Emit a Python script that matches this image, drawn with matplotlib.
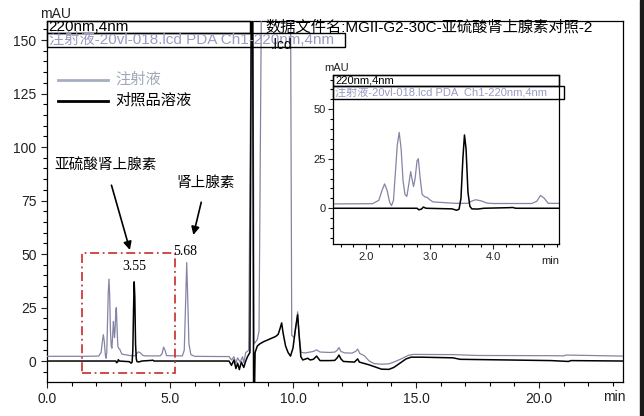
import matplotlib
matplotlib.use("Agg")
import matplotlib.pyplot as plt
from matplotlib.patches import Rectangle
from matplotlib.transforms import Bbox

plt.rcParams['font.family'] = ['Liberation Sans', 'Noto Sans CJK SC', 'DejaVu Sans']

# ---------------- data ----------------
gray_t = [0.0, 1.5, 2.1, 2.2, 2.25, 2.29, 2.33, 2.37, 2.40, 2.43, 2.46, 2.49, 2.52, 2.55, 2.58,
          2.61, 2.64, 2.67, 2.70, 2.72, 2.745, 2.77, 2.80, 2.82, 2.85, 2.88, 2.92, 2.96, 3.0,
          3.05, 3.15, 3.25, 3.4, 3.6, 3.65, 3.72, 3.8, 3.9, 4.0, 4.6, 4.68, 4.74, 4.8, 4.86,
          5.5, 5.58, 5.63, 5.68, 5.72, 5.77, 5.85, 6.0, 7.0, 7.4, 7.5, 7.6, 7.68, 7.75, 7.85,
          7.95, 8.0, 8.08, 8.2, 8.31, 8.37, 8.42, 8.55, 8.62, 8.72, 9.9, 9.95, 10.05, 10.12,
          10.19, 10.25, 10.33, 10.5, 10.7, 10.83, 10.96, 11.1, 11.5, 11.7, 11.8, 11.87, 11.95,
          12.1, 12.4, 12.55, 12.63, 12.72, 12.9, 13.1, 13.3, 13.6, 13.9, 14.1, 14.4, 14.7,
          14.9, 16.5, 17.5, 20.5, 21.0, 21.1, 23.43]
gray_v = [2.2, 2.2, 2.3, 4.0, 9.0, 12.3, 9.0, 3.0, 1.3, 4.0, 18.0, 32.0, 38.3, 30.0, 14.0,
          7.0, 6.0, 12.0, 18.5, 15.0, 11.0, 15.0, 24.0, 25.0, 15.0, 7.0, 5.8, 5.5, 4.3,
          3.2, 3.0, 2.8, 2.5, 2.5, 3.5, 4.3, 3.8, 2.6, 2.4, 2.4, 3.5, 6.5, 5.0, 2.5,
          2.4, 5.0, 25.0, 46.0, 30.0, 8.0, 3.0, 2.2, 2.1, 2.1, 0.5, 2.0, -1.0, 1.5, -0.5,
          2.0, -0.8, 4.0, 5.0, 175.0, 175.0, 8.0, 10.0, 14.0, 175.0, 175.0, 12.0, 11.0, 16.0,
          23.0, 12.0, 4.0, 3.8, 4.2, 4.5, 5.2, 4.2, 4.0, 4.2, 5.0, 6.3, 4.5,
          3.8, 3.7, 4.5, 5.6, 3.5, 2.5, 0.0, -1.2, -1.5, -1.3, -0.5, 1.0, 2.7,
          3.1, 3.0, 2.6, 2.5, 2.4, 2.8, 2.3]

black_t = [0.0, 2.2, 2.8, 2.83, 2.87, 2.9, 2.94, 3.35, 3.42, 3.46, 3.49, 3.52, 3.545, 3.57,
           3.60, 3.63, 3.66, 3.75, 3.85, 4.25, 4.3, 4.35, 7.4, 7.5, 7.6, 7.68, 7.75, 7.82,
           7.9, 8.0, 8.08, 8.15, 8.25, 8.31, 8.36, 8.40, 8.43, 8.46, 8.55, 8.65, 8.8, 9.0,
           9.2, 9.3, 9.4, 9.47, 9.54, 9.6, 9.7, 9.8, 9.9, 10.0, 10.1, 10.19, 10.25, 10.32,
           10.4, 10.6, 10.7, 10.83, 10.96, 11.1, 11.5, 11.7, 11.8, 11.87, 11.95, 12.05,
           12.5, 12.63, 12.7, 13.1, 13.4, 13.6, 13.9, 14.1, 14.35, 14.6, 14.8, 15.2, 16.5,
           16.8, 18.7, 20.5, 21.2, 21.3, 23.43]
black_v = [0.0, 0.0, 0.0, -0.8, -0.4, 0.6, 0.0, -0.3, -1.0, -0.5, 5.0, 25.0, 37.0, 30.0,
           8.0, 1.0, -0.3, -0.4, 0.0, 0.3, 0.4, 0.0, 0.0, -2.0, 0.5, -3.5, -1.0, -4.0,
           -0.5, -3.0, 0.0, 2.0, 4.0, 175.0, 175.0, -20.0, -20.0, 4.0, 7.0, 8.0, 9.0, 10.0,
           11.0, 11.5, 12.5, 15.0, 17.8, 13.0, 7.0, 4.0, 2.3, 6.0, 15.0, 21.6, 12.0, 2.0,
           0.5, 1.3, 0.5, 0.8, 2.3, 0.2, 0.2, 0.3, 1.5, 2.8, 1.0, -0.2,
           -0.5, 1.0, -0.5, -1.8, -3.0, -3.8, -3.9, -3.0, -1.0, 1.0, 1.8, 1.8, 1.5,
           0.8, 0.5, 0.2, -0.2, 0.2, 0.0]

main_yticks = [0, 25, 50, 75, 100, 125, 150]
main_xticks = [0, 5, 10, 15, 20]
main_xlabels = ["0.0", "5.0", "10.0", "15.0", "20.0"]
inset_xticks = [2, 3, 4]
inset_xlabels = ["2.0", "3.0", "4.0"]
inset_yticks = [0, 25, 50]

legend_labels = ["注射液", "对照品溶液"]
peak_labels = ["3.55", "5.68"]
peak_pos = [(3.56, 44.4), (5.61, 51.4)]

gray_c = '#8484a4'
gray_text = '#9a9ac4'

# ---------------- figure ----------------
fig = plt.figure(figsize=(6.44, 4.16), dpi=100)
ax = fig.add_axes([47/644, 1-382/416, 576.3/644, 361/416])

ax.plot(gray_t, gray_v, color=gray_c, lw=0.9, zorder=3)
ax.plot(black_t, black_v, color='black', lw=1.1, zorder=4)
ax.set_xlim(0, 23.43)
ax.set_ylim(-9.8, 158.9)
ax.set_xticks(main_xticks)
ax.set_xticklabels(main_xlabels)
ax.set_yticks(main_yticks)
ax.set_xticks([i for i in range(0, 24)], minor=True)
ax.set_yticks([i for i in range(-5, 159, 5)], minor=True)
ax.tick_params(which='major', direction='out', length=4.5, width=0.8, labelsize=10,
               colors='#222222', pad=3)
ax.tick_params(which='minor', direction='out', length=3, width=0.8)
for s in ax.spines.values():
    s.set_linewidth(0.9)

ax.text(0.014, 1.019, "mAU", transform=ax.transAxes, ha='center', va='center', fontsize=10,
        color='#222222')
ax.text(0.985, -0.042, "min", transform=ax.transAxes, ha='center', va='center', fontsize=10,
        color='#222222')

# header boxes
ax.add_patch(Rectangle((0, 0.966), 0.352, 0.034, transform=ax.transAxes, fill=False,
                       lw=1, ec='black', clip_on=False, zorder=6))
ax.add_patch(Rectangle((0, 0.929), 0.517, 0.037, transform=ax.transAxes, fill=False,
                       lw=1, ec='black', clip_on=False, zorder=6))
ax.text(0.003, 0.983, "220nm,4nm", transform=ax.transAxes, ha='left', va='center',
        fontsize=11, color='black', zorder=7)
ax.text(0.003, 0.9475, "注射液-20vl-018.lcd PDA Ch1-220nm,4nm", transform=ax.transAxes,
        ha='left', va='center', fontsize=11, color=gray_text, zorder=7)
t = ax.text((265-47)/576.3, (382-27)/361, "数据文件名:MGII-G2-30C-亚硫酸肾上腺素对照-20",
            transform=ax.transAxes, ha='left', va='center', fontsize=11, color='black', zorder=7)
t.set_clip_on(True)
t.set_clip_box(Bbox([[0, 0], [592, 416]]))
ax.text((271-47)/576.3, (382-45)/361, ".lcd", transform=ax.transAxes, ha='left', va='center',
        fontsize=10, color='black', zorder=7)

# legend (manual)
ax.plot([0.0191, 0.1058], [0.8366, 0.8366], transform=ax.transAxes, color='#a6aec0', lw=2,
        zorder=5)
ax.plot([0.0191, 0.1058], [0.779, 0.779], transform=ax.transAxes, color='black', lw=2,
        zorder=5)
ax.text(0.118, 0.8366, legend_labels[0], transform=ax.transAxes, ha='left', va='center',
        fontsize=11, color='#a0a8b8', zorder=5)
ax.text(0.118, 0.779, legend_labels[1], transform=ax.transAxes, ha='left', va='center',
        fontsize=11, color='black', zorder=5)

# red dash-dot box
ax.add_patch(Rectangle((1.41, -5.5), 5.20-1.41, 50.3+5.5, fill=False, ec='#cc3b3b', lw=1.3,
                       ls=(0, (5, 2, 1, 2)), zorder=5))

# peak labels
for lab, (px, py) in zip(peak_labels, peak_pos):
    ax.text(px, py, lab, ha='center', va='center', fontsize=10,
            family=['Liberation Serif'], color='black', zorder=6)

# annotations
ax.annotate("亚硫酸肾上腺素", xy=(3.37, 51.9), xytext=(2.40, 91.1), ha='center', va='center',
            fontsize=10.5, color='black',
            arrowprops=dict(arrowstyle='-|>', color='black', lw=1.2, mutation_scale=12,
                            shrinkA=7, shrinkB=0))
ax.annotate("肾上腺素", xy=(5.95, 58.9), xytext=(6.46, 83.2), ha='center', va='center',
            fontsize=10.5, color='black',
            arrowprops=dict(arrowstyle='-|>', color='black', lw=1.2, mutation_scale=12,
                            shrinkA=7, shrinkB=0))

# ---------------- inset ----------------
ins = fig.add_axes([333/644, 1-244.3/416, 226/644, 169.3/416])
ins.set_facecolor('white')
ins.plot(gray_t, gray_v, color=gray_c, lw=0.9)
ins.plot(black_t, black_v, color='black', lw=1.1)
ins.set_xlim(1.48, 5.03)
ins.set_ylim(-18.2, 67.3)
ins.set_xticks(inset_xticks)
ins.set_xticklabels(inset_xlabels)
ins.set_yticks(inset_yticks)
ins.set_xticks([1.6 + 0.2*i for i in range(18)], minor=True)
ins.set_yticks([-15 + 5*i for i in range(17)], minor=True)
ins.tick_params(which='major', direction='out', length=3.5, width=0.8, labelsize=8,
                colors='#222222', pad=2)
ins.tick_params(which='minor', direction='out', length=2.5, width=0.8)
for s in ins.spines.values():
    s.set_linewidth(0.9)
ins.text(0.018, 1.044, "mAU", transform=ins.transAxes, ha='center', va='center', fontsize=8,
         color='#222222')
ins.text(0.96, -0.099, "min", transform=ins.transAxes, ha='center', va='center', fontsize=8,
         color='#222222')
ins.add_patch(Rectangle((0, 1-11/169.3), 1.0, 11/169.3, transform=ins.transAxes, fill=False,
                        lw=1, ec='black', clip_on=False, zorder=6))
ins.add_patch(Rectangle((0, 1-24.3/169.3), 231/226, 13.3/169.3, transform=ins.transAxes,
                        fill=False, lw=1, ec='black', clip_on=False, zorder=6))
ins.text(0.01, 1-5.5/169.3, "220nm,4nm", transform=ins.transAxes, ha='left', va='center',
         fontsize=8, color='black', zorder=7)
ins.text(0.01, 1-17.6/169.3, "注射液-20vl-018.lcd PDA  Ch1-220nm,4nm", transform=ins.transAxes,
         ha='left', va='center', fontsize=8, color=gray_text, zorder=7)

# dark strip at the right image edge
fig.patches.append(Rectangle((640/644, 0), 4/644, 1, transform=fig.transFigure,
                             color='#1a1a1a', zorder=10))

fig.savefig("out.png", dpi=100)
